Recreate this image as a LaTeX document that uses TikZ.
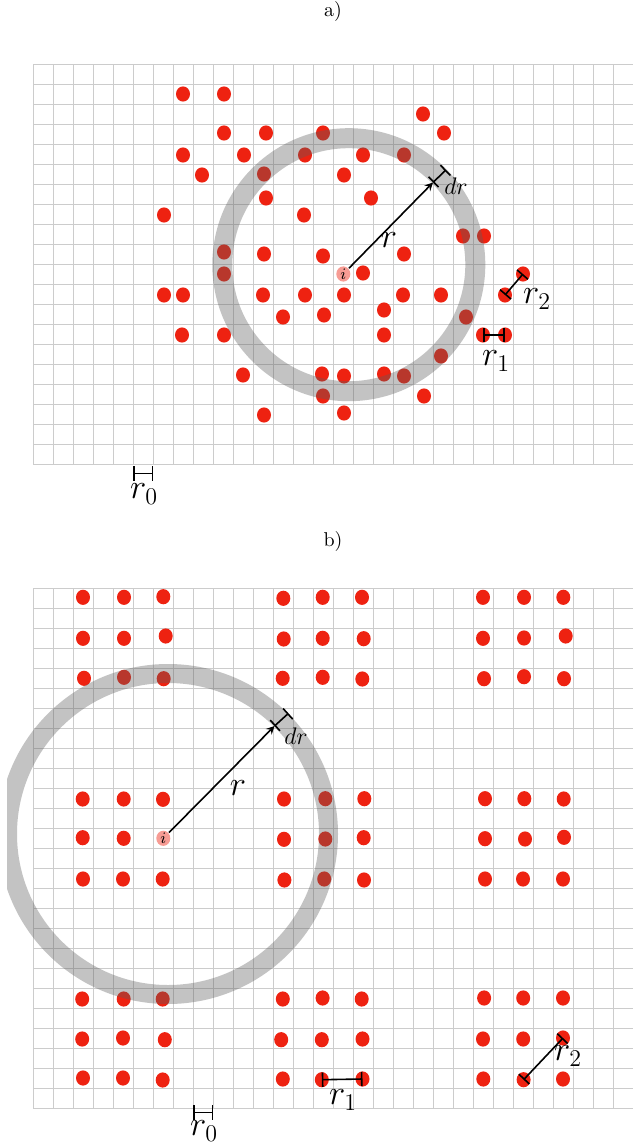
\documentclass[tikz,border=0pt]{standalone}
\usetikzlibrary{shapes.geometric}
\definecolor{dotred}{RGB}{238,34,17}
\tikzset{
  dot/.style={ellipse, fill=dotred, inner sep=0pt, minimum width=7pt, minimum height=7.6pt},
  selfdot/.style={dot, fill=dotred!45, font=\footnotesize},
  gridline/.style={black!20, line width=0.55pt},
  shell/.style={black!64, opacity=0.37},
  barline/.style={|-|, thick},
  lbl/.style={font=\LARGE}
}
\begin{document}
\begin{tikzpicture}[x=0.5pt, y=-0.5pt, >=stealth, thick]
				\useasboundingbox (0,0) rectangle (632,1144);
				% 1. 网格 (a) 与 (b)
				\foreach \k in {0,...,30} \draw[gridline] ({33.3+20*\k},64.3) -- ({33.3+20*\k},465.3);
				\foreach \k in {0,...,20} \draw[gridline] (33.3,{64.3+20*\k}) -- (633.3,{64.3+20*\k});
				\foreach \k in {0,...,30} \draw[gridline] ({33.3+20*\k},588.3) -- ({33.3+20*\k},1108.3);
				\foreach \k in {0,...,26} \draw[gridline] (33.3,{588.3+20*\k}) -- (633.3,{588.3+20*\k});
				
				% 2. 标题
				\node (ta) at (333,12) {a)};
				\node (tb) at (333,541) {b)};
				
				% 3. (a) 无序粒子
				\foreach \x/\y [count=\n] in {183/94, 224/94, 423/114,
					224/133, 266/133, 323/133, 444/133,
					183/155, 244/155, 305/155, 363/155, 404/155,
					202/175, 264/174, 344/175, 266/198, 371/198, 164/215, 304/215,
					463/236, 484/236, 224/252, 264/254, 323/256, 404/254,
					224/274, 363/273,
					164/295, 183/295, 263/295, 305/295, 344/295, 403/295, 441/295,
					384/310, 283/317, 324/315, 466/317,
					182/335, 224/335, 384/335, 441/356,
					243/375, 322/374, 344/376, 384/374, 404/376,
					323/396, 424/396, 264/415, 344/413}
					\node[dot] (a\n) at (\x,\y) {};
				\node[dot] (a-p) at (483,335) {};
				\node[dot] (a-q) at (505,335) {};
				\node[dot] (a-s) at (505,295) {};
				\node[dot] (a-t) at (523,274) {};
				\node[selfdot] (ia) at (343.3,274) {$i$};
				
				% 4. (b) 晶格粒子
				\foreach \x/\y [count=\n] in {83/597.3, 124/597.3, 163.3/596.7, 283.3/598.3, 322.7/597.3, 362/597.3, 483/597.3, 524/597.3, 563.3/597.3,
					83/638.3, 124/638.3, 165.7/636, 283.7/639, 322.7/638.3, 363.7/638.7, 483/638.3, 524/638, 565.7/636,
					84/678.3, 124/677.3, 163.7/678.7, 282.7/678.3, 322.7/677.3, 362.3/679, 484/678.7, 524/676.7, 564/678.7,
					82.7/799, 123.7/799, 163/799.3, 284/799, 325.3/798.7, 364.3/798.7, 485/798.7, 524.3/798.7, 563.7/799,
					82.7/837.7, 123.7/838.3, 284/839.3, 325.3/839, 363.7/837.7, 485/838.7, 525/839, 564/837.3,
					83/879, 123/879, 162.7/879, 284.4/880, 324.2/879, 364/880, 485/879, 523/879, 563/879,
					82.2/999, 123.7/999, 162.7/999, 282.8/999, 322.6/998, 361.7/999, 484.1/998, 523.2/998, 563/998,
					82.2/1039, 123/1038, 164.8/1039.7, 281.2/1039.7, 321.8/1039.7, 362.5/1039, 483/1039, 523.2/1039,
					83/1078, 123/1078, 162.7/1080, 282.8/1079, 483.3/1079, 563/1079}
					\node[dot] (b\n) at (\x,\y) {};
				\node[dot] (b-p) at (321.8,1079.7) {};
				\node[dot] (b-q) at (362.5,1079) {};
				\node[dot] (b-s) at (523.6,1079.7) {};
				\node[dot] (b-t) at (563,1038) {};
				\node[selfdot] (ib) at (163.3,838.3) {$i$};
				
				% 5. 球壳 r ~ r+dr
				\coordinate (ca) at (348.8,264.7);
				\coordinate (cb) at (168,834);
				\draw[shell, line width=10pt] (ca) circle (126.5);
				\begin{scope}
					\clip (7,560) rectangle (632,1144);
					\draw[shell, line width=9.5pt] (cb) circle (160.5);
				\end{scope}
				
				% 6. 半径箭头与 dr
				\coordinate (ra) at (433,182.5);
				\coordinate (dra) at (446,169.8);
				\coordinate (rb) at (274.5,726);
				\coordinate (drb) at (288.5,713.3);
				\draw[->] (ia) -- (ra);
				\draw[barline] (ra) -- (dra);
				\draw[->] (ib) -- (rb);
				\draw[barline] (rb) -- (drb);
				\node[lbl] (la-r) at (389,240) {$r$};
				\node[font=\large] (la-dr) at (456,186) {$dr$};
				\node[lbl] (lb-r) at (238,788) {$r$};
				\node[font=\large] (lb-dr) at (296,736) {$dr$};
				
				% 7. r_0, r_1, r_2
				\coordinate (a0s) at (133.3,473.3);
				\coordinate (a0e) at (153.3,473.3);
				\coordinate (b0s) at (193.3,1112.3);
				\coordinate (b0e) at (213.3,1112.3);
				\draw[barline] (a0s) -- (a0e);
				\draw[barline] (a-p.center) -- (a-q.center);
				\draw[barline] (a-s.center) -- (a-t.center);
				\draw[barline] (b0s) -- (b0e);
				\draw[barline] (b-p.center) -- (b-q.center);
				\draw[barline] (b-s.center) -- (b-t.center);
				\node[lbl] (la-0) at (144,494) {$r_0$};
				\node[lbl] (la-1) at (496,361) {$r_1$};
				\node[lbl] (la-2) at (537,299) {$r_2$};
				\node[lbl] (lb-0) at (204,1131) {$r_0$};
				\node[lbl] (lb-1) at (343,1100) {$r_1$};
				\node[lbl] (lb-2) at (568,1056) {$r_2$};
			\end{tikzpicture}
\end{document}
